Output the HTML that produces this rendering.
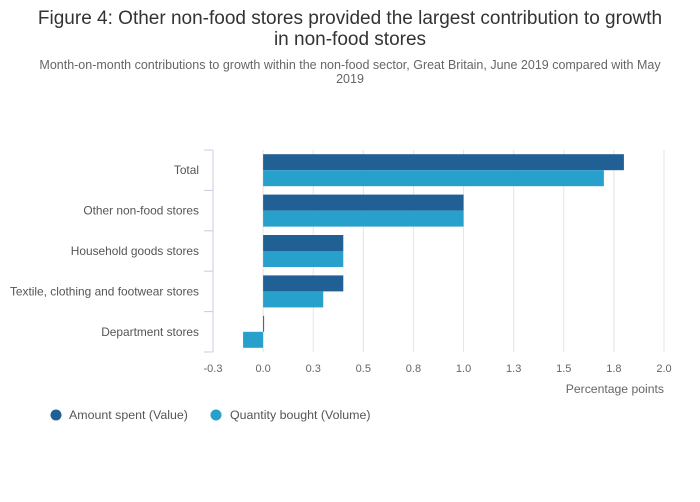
<!DOCTYPE html>
<html><head><meta charset="utf-8"><style>
body{margin:0;background:#fff;}
svg{display:block;font-family:"Liberation Sans",sans-serif;}
</style></head><body>
<svg id="chart" width="700" height="502">
<text x="350" y="24" text-anchor="middle" font-size="19" fill="#333">Figure 4: Other non-food stores provided the largest contribution to growth</text>
<text x="350" y="45" text-anchor="middle" font-size="19" fill="#333">in non-food stores</text>
<text x="350" y="69" text-anchor="middle" font-size="12.5" fill="#666">Month-on-month contributions to growth within the non-food sector, Great Britain, June 2019 compared with May</text>
<text x="350" y="83" text-anchor="middle" font-size="12.5" fill="#666">2019</text>
<g id="grid"></g><g id="bars"></g><g id="yaxis"></g><g id="xaxis"></g>
<text x="664" y="393" text-anchor="end" font-size="12.2" fill="#666">Percentage points</text>
<g>
<g><circle cx="56" cy="415" r="5.5" fill="#206095"/><text x="69" y="419" font-size="12.4" fill="#555">Amount spent (Value)</text></g>
<g><circle cx="216" cy="415" r="5.5" fill="#27a0cc"/><text x="230" y="419" font-size="12.4" fill="#555">Quantity bought (Volume)</text></g>
</g>
</svg>
<script>
const categories=["Total","Other non-food stores","Household goods stores","Textile, clothing and footwear stores","Department stores"];
const valueSeries=[1.8,1.0,0.4,0.4,0.005];
const volumeSeries=[1.7,1.0,0.4,0.3,-0.1];
const tickValues=[-0.25,0,0.25,0.5,0.75,1,1.25,1.5,1.75,2];
const tickLabels=["-0.3","0.0","0.3","0.5","0.8","1.0","1.3","1.5","1.8","2.0"];
const NS="http://www.w3.org/2000/svg";
const x0=213,x1=664,dmin=-0.25,dmax=2;
const yTop=150,yBot=352;
function xs(v){return x0+(v-dmin)/(dmax-dmin)*(x1-x0);}
const band=(yBot-yTop)/categories.length;
function ys(i){return yTop+i*band;}
function mk(tag,attrs,parent){const e=document.createElementNS(NS,tag);for(const k in attrs)e.setAttribute(k,attrs[k]);document.getElementById(parent).appendChild(e);return e;}
tickValues.forEach((t,i)=>{
 if(i>0){const g=mk('line',{x1:xs(t),x2:xs(t),y1:yTop,y2:yBot,stroke:'#e4e4e4','stroke-width':1},'grid');
 
 }
 const l=mk('text',{x:xs(t),y:372,'text-anchor':'middle','font-size':11,fill:'#666'},'xaxis');
 l.textContent=tickLabels[i];
 
 
});
const ax=mk('line',{x1:x0,x2:x0,y1:yTop,y2:yBot,stroke:'#c8cce0','stroke-width':1},'yaxis');


for(let i=0;i<=categories.length;i++){
 const t=mk('line',{x1:x0-9,x2:x0,y1:ys(i),y2:ys(i),stroke:'#c8cce0','stroke-width':1},'yaxis');
 
 
}
categories.forEach((c,i)=>{
 const l=mk('text',{x:199,y:ys(i)+band/2+4,'text-anchor':'end','font-size':11.9,fill:'#555'},'yaxis');
 l.textContent=c;
 
 
 const h=16,top=ys(i)+band/2-h;
 [[valueSeries[i],'#206095',top,'bar-value'],[volumeSeries[i],'#27a0cc',top+h,'bar-volume']].forEach(([v,col,y,nm])=>{
  const a=xs(Math.min(0,v)),b=xs(Math.max(0,v));
  const r=mk('rect',{x:a,y:y,width:Math.max(1,b-a),height:h,fill:col},'bars');
  
  
 });
});
</script>
</body></html>
